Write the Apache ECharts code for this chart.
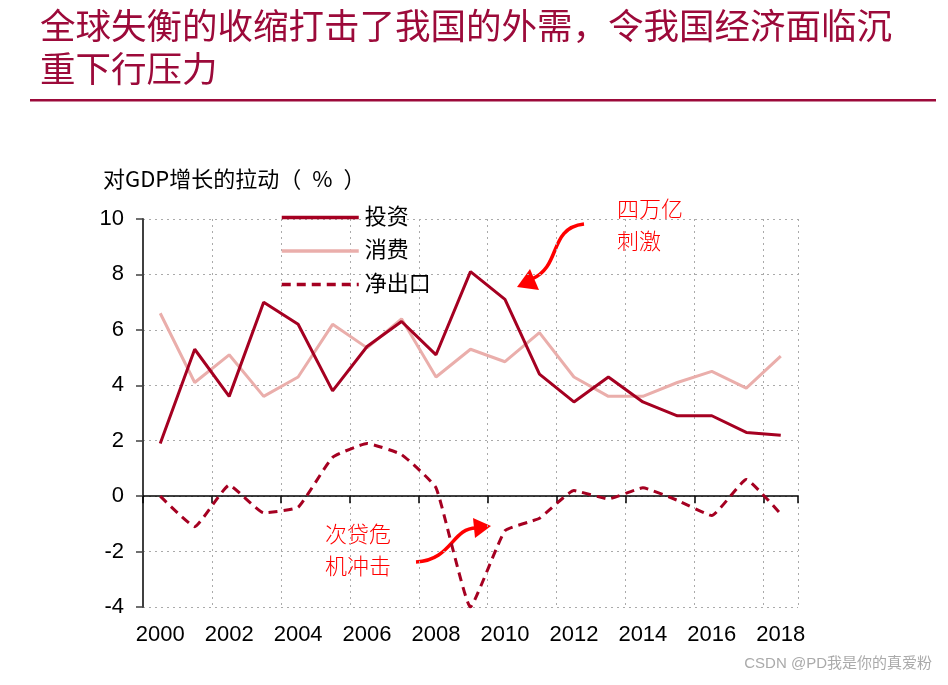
<!DOCTYPE html>
<html><head><meta charset="utf-8">
<script src="https://cdn.jsdelivr.net/npm/echarts@6/dist/echarts.min.js"></script>
<style>html,body{margin:0;padding:0;background:#fff;}#c{width:948px;height:685px;}</style>
</head><body><div id="c"></div>
<script>
var years = ['2000','2001','2002','2003','2004','2005','2006','2007','2008','2009','2010','2011','2012','2013','2014','2015','2016','2017','2018'];
var investment = [1.9,5.3,3.6,7.0,6.2,3.8,5.4,6.3,5.1,8.1,7.1,4.4,3.4,4.3,3.4,2.9,2.9,2.3,2.2];
var consumption = [6.6,4.1,5.1,3.6,4.3,6.2,5.35,6.4,4.3,5.3,4.85,5.9,4.3,3.6,3.6,4.1,4.5,3.9,5.05];
var netExports = [0.0,-1.1,0.4,-0.6,-0.4,1.4,1.9,1.5,0.3,-4.0,-1.25,-0.8,0.2,-0.1,0.3,-0.15,-0.7,0.6,-0.65];
var yTicks = {min:-4, max:10, interval:2};

var dark = '#A50021', pink = '#EAAEAB', red = '#FF0000';
var cjk = '"Liberation Sans", "Noto Sans CJK SC", sans-serif';
var cjkFirst = '"Noto Sans CJK SC", sans-serif';
var chart = echarts.init(document.getElementById('c'));
chart.setOption({
  animation:false,
  backgroundColor:'#fff',
  grid:{left:143,right:150,top:219,bottom:78,containLabel:false},
  legend:{
    orient:'vertical', left:275, top:201, itemWidth:77, itemHeight:14, itemGap:10.5,
    itemStyle:{opacity:0},
    lineStyle:{width:3.5},
    textStyle:{fontSize:22, color:'#000', fontFamily:cjk, lineHeight:23, padding:[0,0,0,1]},
    data:['投资','消费','净出口']
  },
  xAxis:[{
    type:'category', data:years, position:'bottom', boundaryGap:true,
    axisLine:{show:false, onZero:false}, axisTick:{show:false},
    axisLabel:{interval:1, fontSize:22, color:'#000', fontFamily:cjk, margin:17},
    splitLine:{show:true, interval:1, lineStyle:{color:'#aaa', type:[2,4], width:1}}
  },{
    type:'category', data:years, position:'top', boundaryGap:true,
    axisLine:{show:true, onZero:true, lineStyle:{color:'#000', width:1.5}},
    axisTick:{show:true, inside:true, interval:1, length:7, lineStyle:{color:'#000', width:1.5}},
    axisLabel:{show:false}, splitLine:{show:false}
  }],
  yAxis:{
    type:'value', min:yTicks.min, max:yTicks.max, interval:yTicks.interval,
    axisLine:{show:true, lineStyle:{color:'#404040', width:2}},
    axisTick:{show:true, length:7, lineStyle:{color:'#404040', width:1.5}},
    axisLabel:{fontSize:22, color:'#000', fontFamily:cjk, margin:19},
    splitLine:{show:true, lineStyle:{color:'#aaa', type:[2,4], width:1}}
  },
  series:[
    {name:'投资', type:'line', data:investment, symbol:'none', lineStyle:{color:dark, width:3}, itemStyle:{color:dark}, z:3},
    {name:'消费', type:'line', data:consumption, symbol:'none', lineStyle:{color:pink, width:3}, itemStyle:{color:pink}, z:2},
    {name:'净出口', type:'line', data:netExports, symbol:'none', smooth:0.12, lineStyle:{color:dark, width:3, type:[9,6]}, itemStyle:{color:dark}, z:3}
  ],
  graphic:[
    {type:'text', left:40, top:4, style:{text:'全球失衡的收缩打击了我国的外需，令我国经济面临沉\n重下行压力', fontSize:35.5, lineHeight:43, fill:'#9C0A3A', fontFamily:cjkFirst}},
    {type:'rect', shape:{x:30, y:99, width:906, height:2.5}, style:{fill:'#9C0A3A'}},
    {type:'text', left:103, top:168, style:{text:'对GDP增长的拉动（\u2002%\u2002）', fontSize:22, fill:'#000', fontFamily:cjkFirst}},
    {type:'text', left:617, top:193, style:{text:'四万亿\n刺激', fontSize:22, lineHeight:32, fill:red, fontFamily:cjkFirst, fontWeight:300}},
    {type:'text', left:325, top:518, style:{text:'次贷危\n机冲击', fontSize:22, lineHeight:32, fill:red, fontFamily:cjkFirst, fontWeight:300}},
    {type:'bezierCurve', shape:{x1:584, y1:224, cpx1:548, cpy1:228, cpx2:562, cpy2:266, x2:532, y2:279}, style:{stroke:red, lineWidth:3.5, fill:null}},
    {type:'polygon', shape:{points:[[517,287],[530,269],[539,290]]}, style:{fill:red}},
    {type:'bezierCurve', shape:{x1:416, y1:562, cpx1:452, cpy1:560, cpx2:452, cpy2:528, x2:476, y2:528}, style:{stroke:red, lineWidth:3.5, fill:null}},
    {type:'polygon', shape:{points:[[491,526],[473,518],[475,538]]}, style:{fill:red}},
    {type:'text', right:16, top:656, style:{text:'CSDN @PD我是你的真爱粉', fontSize:15, fill:'#aaa', fontFamily:cjk}}
  ]
});
</script></body></html>
